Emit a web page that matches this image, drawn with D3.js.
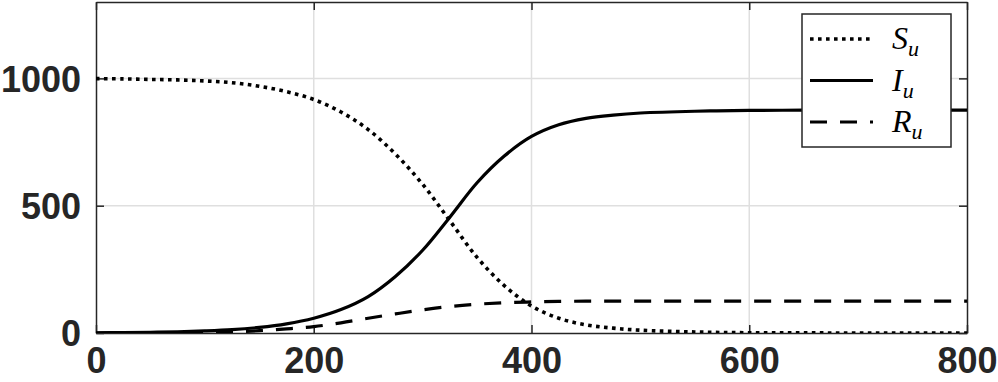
<!DOCTYPE html>
<html><head><meta charset="utf-8">
<script src="https://cdn.jsdelivr.net/npm/d3@7"></script>
<style>body{margin:0;background:#fff}svg{display:block}</style>
</head><body>
<script>
const times = [0,25,50,75,100,125,150,175,200,225,250,275,300,325,350,375,400,425,450,475,500,550,600,650,700,750,800];
const S_u = [999,998,996,994,990,983,969,948,917,868,799,703,584,441,297,186,106,58,32,19,11,4,1,0.5,0,0,0];
const I_u = [1,1.8,3,4.8,8,13,22,36,58,92,143,222,325,455,590,695,772,818,843,856,864,871,874,875,875,875,875];
const R_u = [0,0.3,0.8,1.5,2.5,4,9,16,25,40,58,75,91,104,113,119,122,124,125,125,125,125,125,125,125,125,125];
const xTicks = [0,200,400,600,800];
const yTicks = [0,500,1000];
const seriesNames = ["S","I","R"];

const W=998,H=382;
const m={l:96,r:31,t:2,b:49};
const svg=d3.select("body").append("svg").attr("width",W).attr("height",H);
const x=d3.scaleLinear().domain([0,800]).range([m.l,W-m.r]);
const y=d3.scaleLinear().domain([0,1300]).range([H-m.b,m.t]);
const frame="#262626";

// grid
svg.append("g").selectAll("line").data(xTicks.slice(1,-1)).join("line")
  .attr("x1",d=>x(d)).attr("x2",d=>x(d)).attr("y1",y(0)).attr("y2",y(1300))
  .attr("stroke","#dfdfdf").attr("stroke-width",1.5);
svg.append("g").selectAll("line").data(yTicks.slice(1)).join("line")
  .attr("x1",x(0)).attr("x2",x(800)).attr("y1",d=>y(d)).attr("y2",d=>y(d))
  .attr("stroke","#dfdfdf").attr("stroke-width",1.5);

// axes with inward ticks
const font="'Liberation Sans', Arial, sans-serif";
const fmt=d3.format("d");
const ax=svg.append("g").attr("transform",`translate(0,${y(0)})`)
  .call(d3.axisBottom(x).tickValues(xTicks).tickFormat(fmt).tickSizeInner(-8).tickSizeOuter(0).tickPadding(14));
const axTop=svg.append("g").attr("transform",`translate(0,${y(1300)})`)
  .call(d3.axisTop(x).tickValues(xTicks).tickSizeInner(-8).tickSizeOuter(0).tickFormat(""));
const ay=svg.append("g").attr("transform",`translate(${x(0)},0)`)
  .call(d3.axisLeft(y).tickValues(yTicks).tickFormat(fmt).tickSizeInner(-8).tickSizeOuter(0).tickPadding(15));
const ayR=svg.append("g").attr("transform",`translate(${x(800)},0)`)
  .call(d3.axisRight(y).tickValues(yTicks).tickSizeInner(-8).tickSizeOuter(0).tickFormat(""));
[ax,axTop,ay,ayR].forEach(g=>{
  g.selectAll("path").attr("stroke",frame).attr("stroke-width",1.5);
  g.selectAll("line").attr("stroke",frame).attr("stroke-width",1.5);
  g.selectAll("text").attr("fill",frame).style("font-family",font).style("font-weight","bold").style("font-size","36px");
});
ax.selectAll("text").attr("dy","0.71em");
ay.selectAll("text").attr("dy","0.36em");

// lines
const pts=arr=>times.map((t,i)=>[t,arr[i]]);
const lineSmooth=d3.line().x(d=>x(d[0])).y(d=>y(d[1])).curve(d3.curveCatmullRom.alpha(0.5));
const lineMono=d3.line().x(d=>x(d[0])).y(d=>y(d[1])).curve(d3.curveMonotoneX);
const styles={S:"3.6,4.4",I:null,R:"17,13"};
const data={S:S_u,I:I_u,R:R_u};
const clip=svg.append("clipPath").attr("id","c").append("rect")
  .attr("x",x(0)).attr("y",y(1300)).attr("width",x(800)-x(0)).attr("height",y(0)-y(1300));
seriesNames.forEach(n=>{
  svg.append("path").datum(pts(data[n])).attr("d",n==="R"?lineMono:lineSmooth).attr("fill","none")
    .attr("stroke","#000").attr("stroke-width",n==="S"?3.6:3.2)
    .attr("stroke-dasharray",styles[n]).attr("clip-path","url(#c)");
});

// legend
const lg=svg.append("g");
lg.append("rect").attr("x",802).attr("y",14).attr("width",149).attr("height",133)
  .attr("fill","#fff").attr("stroke",frame).attr("stroke-width",1.5);
seriesNames.forEach((n,i)=>{
  const yy=39+i*41.5;
  lg.append("line").attr("x1",810).attr("x2",873).attr("y1",yy).attr("y2",yy)
    .attr("stroke","#000").attr("stroke-width",n==="S"?3.6:3.2).attr("stroke-dasharray",styles[n]);
  const t=lg.append("text").attr("x",892).attr("y",yy+10)
    .style("font-family","'Liberation Serif','DejaVu Serif',serif").style("font-style","italic")
    .style("font-size","32px").attr("fill","#000");
  t.append("tspan").text(n);
  t.append("tspan").attr("dy",7).style("font-size","22px").text("u");
});
</script>
</body></html>
